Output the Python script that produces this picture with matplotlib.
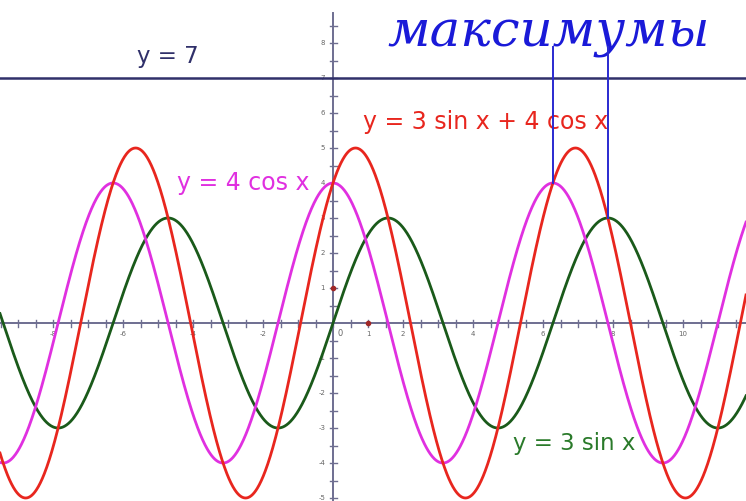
import numpy as np
import matplotlib
matplotlib.use("Agg")
import matplotlib.pyplot as plt

# curves y = a*sin x + b*cos x
curve_labels = ["y = 3 sin x", "y = 4 cos x", "y = 3 sin x + 4 cos x"]
sin_coef = [3, 0, 3]
cos_coef = [0, 4, 4]
curve_colors = ["#1a5a1a", "#e030e0", "#e8261e"]

line_level = 7
line_label = "y = 7"

# points where the vertical markers start (maxima of 4 cos x and 3 sin x)
marker_x = [2 * np.pi, 2.5 * np.pi]
marker_curve = [1, 0]
marker_top = 7.9
caption = "максимумы"

x_labels = [-8, -6, -4, -2, 1, 2, 4, 6, 8, 10]
y_labels = [8, 7, 6, 5, 4, 3, 2, 1, -1, -2, -3, -4, -5]

unit = 35.0  # pixels per unit
W, H = 746, 501
x0, y0 = 333, 323

fig = plt.figure(figsize=(W / 100, H / 100), dpi=100)
ax = fig.add_axes([0, 0, 1, 1])
xmin, xmax = -x0 / unit, (W - x0) / unit
ymin, ymax = -(H - y0) / unit, y0 / unit
ax.set_xlim(xmin, xmax)
ax.set_ylim(ymin, ymax)
ax.axis("off")

axis_col = "#6e6e90"
ax.axhline(0, color=axis_col, lw=1.4, zorder=1)
ax.plot([0, 0], [ymin, 8.85], color=axis_col, lw=1.4, zorder=1)

# half-unit ticks
tick_len = 0.1
for t in np.arange(-9.5, 12, 0.5):
    ax.plot([t, t], [-tick_len, tick_len], color=axis_col, lw=1, zorder=1)
for t in np.arange(-5, 9, 0.5):
    if t != 0:
        ax.plot([-tick_len, tick_len], [t, t], color=axis_col, lw=1, zorder=1)

for v in x_labels:
    ax.text(v, -0.3, str(v), ha="center", va="center", fontsize=5, color="#666666")
for v in y_labels:
    ax.text(-0.3, v, str(v), ha="center", va="center", fontsize=5, color="#666666")
ax.text(0.2, -0.3, "0", ha="center", va="center", fontsize=6, color="#666666")
ax.plot([1, 0], [0, 1], "o", color="#a02828", ms=3, zorder=2)

x = np.linspace(xmin, xmax, 1500)
for a, b, c in zip(sin_coef, cos_coef, curve_colors):
    ax.plot(x, a * np.sin(x) + b * np.cos(x), color=c, lw=2, zorder=3)

ax.axhline(line_level, color="#30306a", lw=1.8, zorder=3)

for mx, ci in zip(marker_x, marker_curve):
    my = sin_coef[ci] * np.sin(mx) + cos_coef[ci] * np.cos(mx)
    ax.plot([mx, mx], [my, marker_top], color="#2a2ad0", lw=1.4, zorder=4)

font = "DejaVu Sans"
ax.text(-4.71, 7.6, line_label, color="#30306a", fontsize=16.5, family=font,
        ha="center", va="center")
ax.text(0.86, 5.74, curve_labels[2], color=curve_colors[2], fontsize=17,
        family=font, ha="left", va="center")
ax.text(-4.46, 4.0, curve_labels[1], color=curve_colors[1], fontsize=17,
        family=font, ha="left", va="center")
ax.text(5.14, -3.43, curve_labels[0], color="#2a7a2a", fontsize=16.5,
        family=font, ha="left", va="center")

ax.text(1.55, 7.9, caption, color="#1a1ad8", fontsize=37, family="DejaVu Serif",
        style="italic", ha="left", va="baseline")

fig.savefig("out.png", dpi=100)
